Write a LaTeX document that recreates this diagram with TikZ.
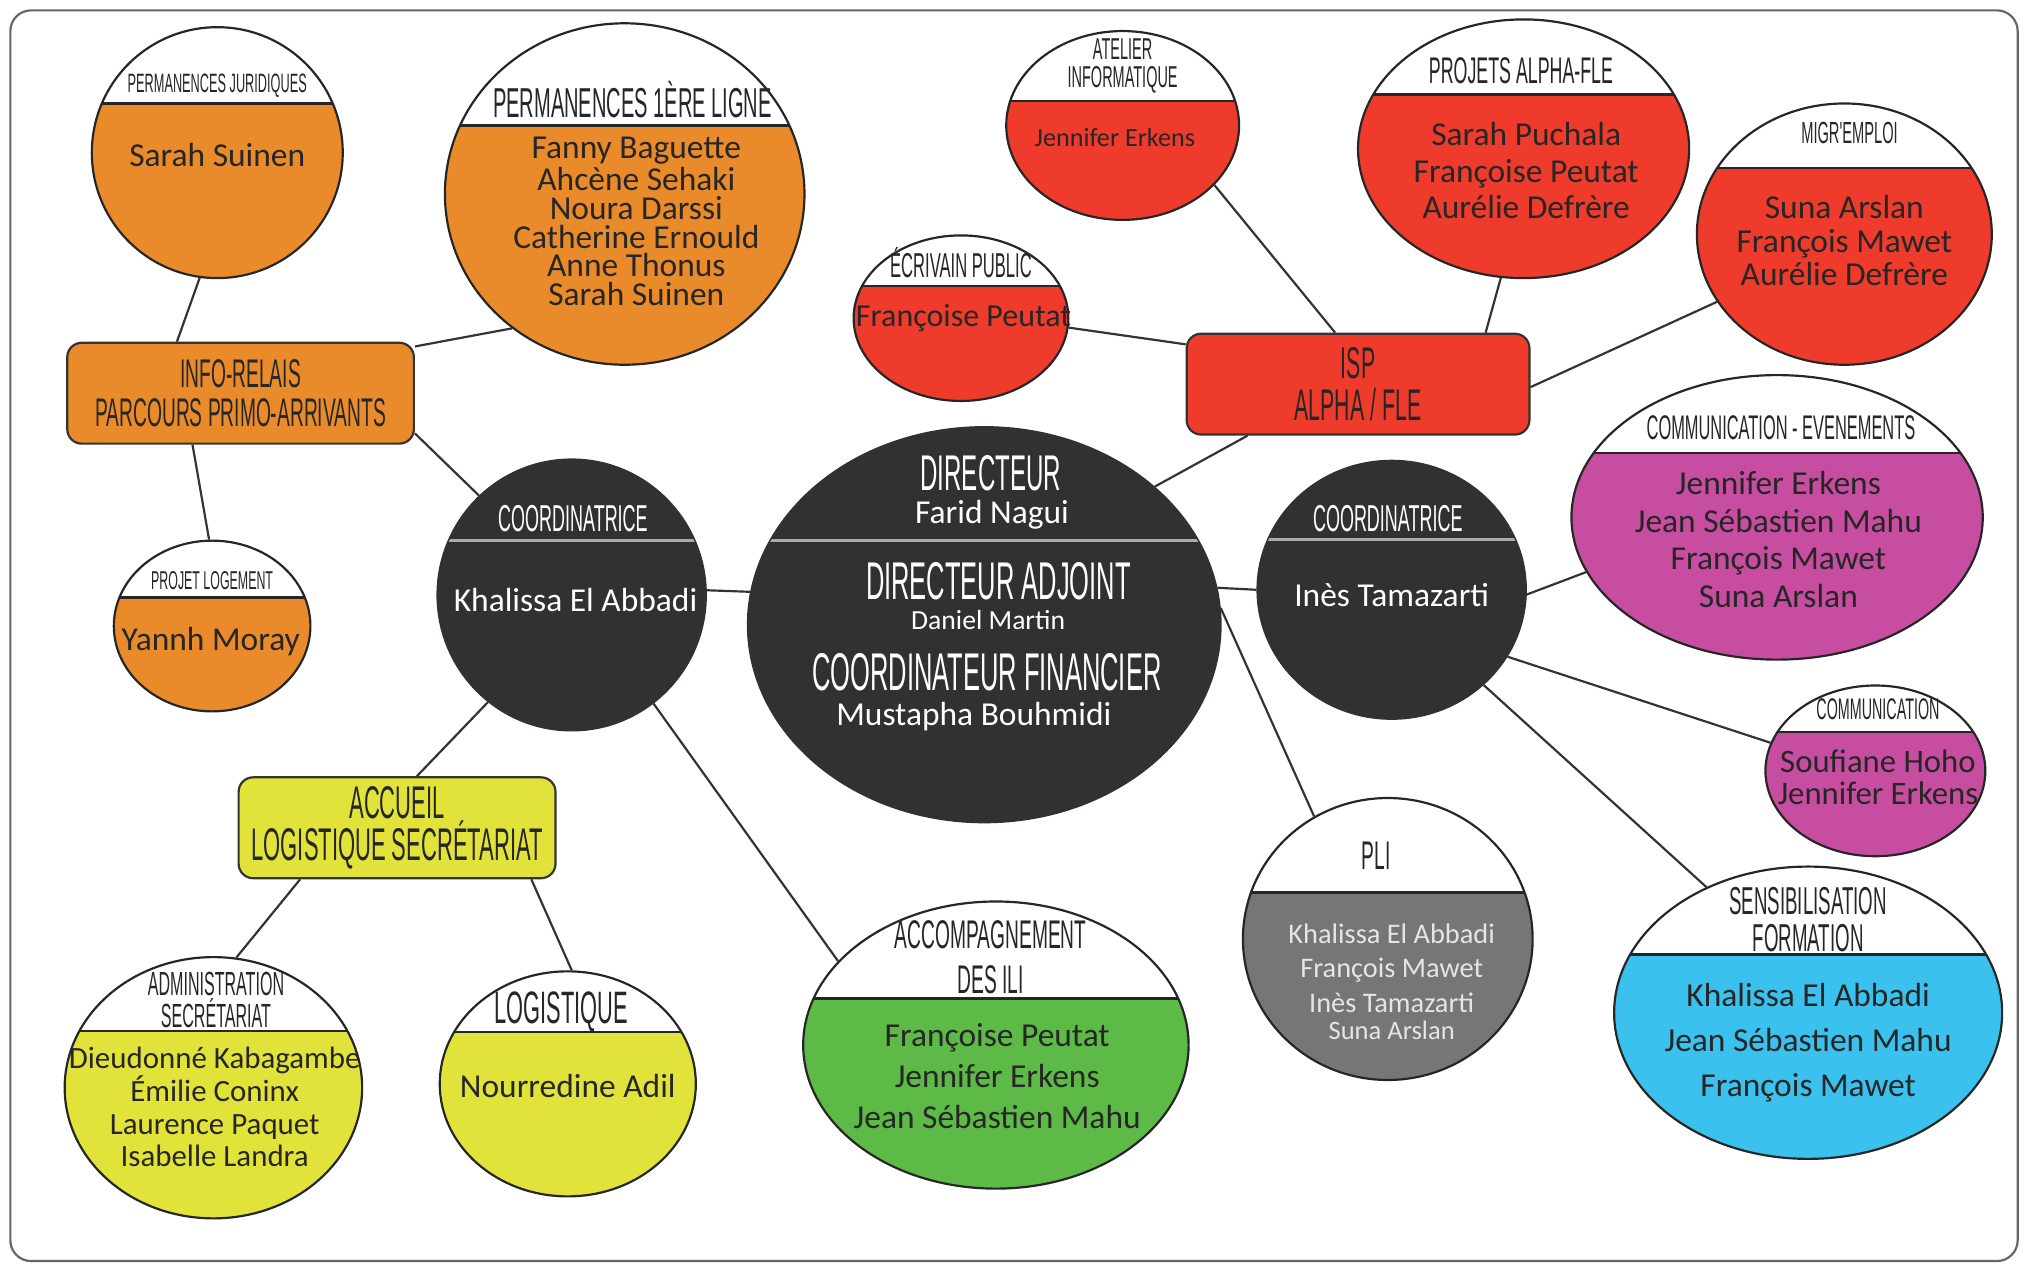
\documentclass[tikz,border=0pt]{standalone}
\usepackage{fontspec}
\usepackage{xcolor}
\usepackage{tikz}
\usetikzlibrary{shapes.geometric}

\newfontfamily\namefont{Carlito}
\newfontfamily\titlefont[FakeStretch=0.48]{Liberation Sans}

\definecolor{orgfill}{RGB}{233,139,43}
\definecolor{redfill}{RGB}{238,59,43}
\definecolor{pinkfill}{RGB}{198,77,159}
\definecolor{cyanfill}{RGB}{58,193,238}
\definecolor{greenfill}{RGB}{94,186,71}
\definecolor{yelfill}{RGB}{225,227,58}
\definecolor{darkfill}{RGB}{50,48,49}
\definecolor{plifill}{RGB}{118,118,118}
\definecolor{sepgray}{RGB}{170,170,170}

\begin{document}
\begin{tikzpicture}[
    x=0.125mm, y=-0.125mm,
    bubble/.style n args={4}{ellipse, draw=black!85, line width=0.6pt, fill=white, inner sep=0pt,
        minimum width=#1*0.25mm, minimum height=#2*0.25mm,
        path picture={
            \fill[#4] ([yshift=-#3*0.125mm]path picture bounding box.north west) rectangle (path picture bounding box.south east);
            \draw[black!85, line width=0.6pt] ([yshift=-#3*0.125mm]path picture bounding box.north west) -- ([yshift=-#3*0.125mm]path picture bounding box.north east);
        }},
    darkbubble/.style n args={3}{ellipse, fill=darkfill, draw=darkfill, inner sep=0pt,
        minimum width=#1*0.25mm, minimum height=#2*0.25mm,
        path picture={
            \draw[sepgray, line width=1pt] ([yshift=-#3*0.125mm]path picture bounding box.north west) -- ([yshift=-#3*0.125mm]path picture bounding box.north east);
        }},
    box/.style={rectangle, rounded corners=1.4mm, draw=black!80, line width=0.6pt, fill=#1, inner sep=0pt,
        minimum height=78*0.125mm, align=center, text=black!85},
    ttl/.style args={#1/#2}{font=\titlefont\fontsize{#1}{#2}\selectfont, align=center, inner sep=0pt, text=black!85},
    nms/.style args={#1/#2}{font=\namefont\fontsize{#1}{#2}\selectfont, align=center, inner sep=0pt, text=black!85},
    link/.style={draw=black!80, line width=0.6pt}
]
    \useasboundingbox (0,0) rectangle (1568,980);
    \fill[white] (0,0) rectangle (1568,980);
    \draw[black!60, line width=0.6pt, rounded corners=2mm] (8,8) rectangle (1560,975);

    % Direction
    \node[darkbubble={183}{153}{88}] (dir) at (761,483) {};
    \node[ttl=13.8/14, text=white] at (766,366) {DIRECTEUR};
    \node[nms=9.2/10, text=white] at (767,398) {Farid Nagui};
    \node[ttl=14.6/15, text=white] at (772,449) {DIRECTEUR ADJOINT};
    \node[nms=7.6/8, text=white] at (764,479) {Daniel Martin};
    \node[ttl=14.6/15, text=white] at (763,520) {COORDINATEUR FINANCIER};
    \node[nms=9.2/10, text=white] at (753,554) {Mustapha Bouhmidi};

    % Coordinatrices
    \node[darkbubble={104}{105}{63}] (coordL) at (442,460) {};
    \node[ttl=10.3/11, text=white] at (443,401) {COORDINATRICE};
    \node[nms=9.2/10, text=white] at (445,464) {Khalissa El Abbadi};
    \node[darkbubble={104}{100}{61}] (coordR) at (1076,456) {};
    \node[ttl=10.3/11, text=white] at (1073,401) {COORDINATRICE};
    \node[nms=9.2/10, text=white] at (1076,460) {Inès Tamazarti};

    % Info-relais
    \node[box=orgfill, minimum width=268*0.125mm, font=\titlefont\fontsize{11}{10.9}\selectfont] (inforel) at (186,304) {INFO-RELAIS\\PARCOURS PRIMO-ARRIVANTS};
    \node[bubble={97}{97}{59}{orgfill}] (pjur) at (168,118) {};
    \node[ttl=7.3/8] at (168,66) {PERMANENCES JURIDIQUES};
    \node[nms=9.2/10] at (168,120) {Sarah Suinen};
    \node[bubble={139}{132}{79}{orgfill}] (pperm) at (483,150) {};
    \node[ttl=11.5/12] at (489,77) {PERMANENCES 1ÈRE LIGNE};
    \node[nms=9.2/7.9] at (492,171) {Fanny Baguette\\Ahcène Sehaki\\Noura Darssi\\Catherine Ernould\\Anne Thonus\\Sarah Suinen};
    \node[bubble={76}{66}{44}{orgfill}] (plog) at (164,484) {};
    \node[ttl=7.1/8] at (164,449) {PROJET LOGEMENT};
    \node[nms=9.2/10] at (163,496) {Yannh Moray};

    % ISP alpha / FLE
    \node[box=redfill, minimum width=265*0.125mm, font=\titlefont\fontsize{12.2}{11.6}\selectfont] (isp) at (1050,297) {ISP\\ALPHA / FLE};
    \node[bubble={83}{64}{39}{redfill}] (ecriv) at (743,246) {};
    \node[ttl=9.5/10] at (743,203) {ÉCRIVAIN PUBLIC};
    \node[nms=8.8/10] at (745,246) {Françoise Peutat};
    \node[bubble={90}{73}{54}{redfill}] (atel) at (868,97) {};
    \node[ttl=8.3/7.8] at (868,51) {ATELIER\\INFORMATIQUE};
    \node[nms=7.2/8] at (862,106) {Jennifer Erkens};
    \node[bubble={128}{100}{58}{redfill}] (projets) at (1178,115) {};
    \node[ttl=10.2/11] at (1176,55) {PROJETS ALPHA-FLE};
    \node[nms=9.2/10] at (1180,132) {Sarah Puchala\\Françoise Peutat\\Aurélie Defrère};
    \node[bubble={114}{101}{50}{redfill}] (migr) at (1426,181) {};
    \node[ttl=8.4/9] at (1430,103) {MIGR'EMPLOI};
    \node[nms=9.2/9.3] at (1426,186) {Suna Arslan\\François Mawet\\Aurélie Defrère};

    % Communication and training
    \node[bubble={159}{110}{60}{pinkfill}] (comev) at (1374,400) {};
    \node[ttl=9.4/10] at (1377,331) {COMMUNICATION - EVENEMENTS};
    \node[nms=9.2/10.3] at (1375,417) {Jennifer Erkens\\Jean Sébastien Mahu\\François Mawet\\Suna Arslan};
    \node[bubble={85}{66}{36}{pinkfill}] (comm) at (1450,596) {};
    \node[ttl=8.2/9] at (1452,548) {COMMUNICATION};
    \node[nms=9/8.9] at (1452,601) {Soufiane Hoho\\Jennifer Erkens};
    \node[bubble={150}{113}{68}{cyanfill}] (sensi) at (1398,783) {};
    \node[ttl=10.7/10.3] at (1398,711) {SENSIBILISATION\\FORMATION};
    \node[nms=9.2/12.4] at (1398,806) {Khalissa El Abbadi\\Jean Sébastien Mahu\\François Mawet};
    \node[bubble={112}{109}{73}{plifill}] (pli) at (1073,726) {};
    \node[ttl=11/12] at (1064,662) {PLI};
    \node[nms=7.8/9.6, text=white!90!black] at (1076,759) {Khalissa El Abbadi\\François Mawet\\Inès Tamazarti\\[-2.2pt]{\fontsize{7.3}{8}\selectfont Suna Arslan}};
    \node[bubble={149}{111}{75}{greenfill}] (accomp) at (770,808) {};
    \node[ttl=11/12.5] at (766,740) {ACCOMPAGNEMENT\\DES ILI};
    \node[nms=9.2/11.4] at (771,832) {Françoise Peutat\\Jennifer Erkens\\Jean Sébastien Mahu};

    % Accueil
    \node[box=yelfill, minimum width=245*0.125mm, font=\titlefont\fontsize{12.6}{11.7}\selectfont] (accueil) at (307,640) {ACCUEIL\\LOGISTIQUE SECRÉTARIAT};
    \node[bubble={115}{101}{57}{yelfill}] (admin) at (165,841) {};
    \node[ttl=9.2/8.9] at (167,773) {ADMINISTRATION\\SECRÉTARIAT};
    \node[nms=8.5/9] at (166,856) {Dieudonné Kabagambe\\Émilie Coninx\\Laurence Paquet\\Isabelle Landra};
    \node[bubble={99}{87}{47}{yelfill}] (logis) at (439,838) {};
    \node[ttl=12.5/13] at (434,782) {LOGISTIQUE};
    \node[nms=9.2/10] at (439,840) {Nourredine Adil};

    % Links
    \draw[link] (pjur.262) -- (inforel.141);
    \draw[link] (pperm.230) -- (inforel.15);
    \draw[link] (inforel.227) -- (plog.92);
    \draw[link] (inforel.-13) -- (coordL.133);
    \draw[link] (coordL.2) -- (dir.172);
    \draw[link] (coordL.232) -- (accueil.69);
    \draw[link] (coordL.-53) -- (accomp.152);
    \draw[link] (accueil.208) -- (admin.80);
    \draw[link] (accueil.-21) -- (logis.88);
    \draw[link] (dir.39) -- (isp.205);
    \draw[link] (isp.167) -- (ecriv.-5);
    \draw[link] (isp.114) -- (atel.-33);
    \draw[link] (isp.22) -- (projets.260);
    \draw[link] (isp.-1) -- (migr.208);
    \draw[link] (dir.9) -- (coordR.180);
    \draw[link] (dir.4) -- (pli.121);
    \draw[link] (coordR.-2) -- (comev.196);
    \draw[link] (coordR.-30) -- (comm.165);
    \draw[link] (coordR.-46) -- (sensi.129);
\end{tikzpicture}
\end{document}
